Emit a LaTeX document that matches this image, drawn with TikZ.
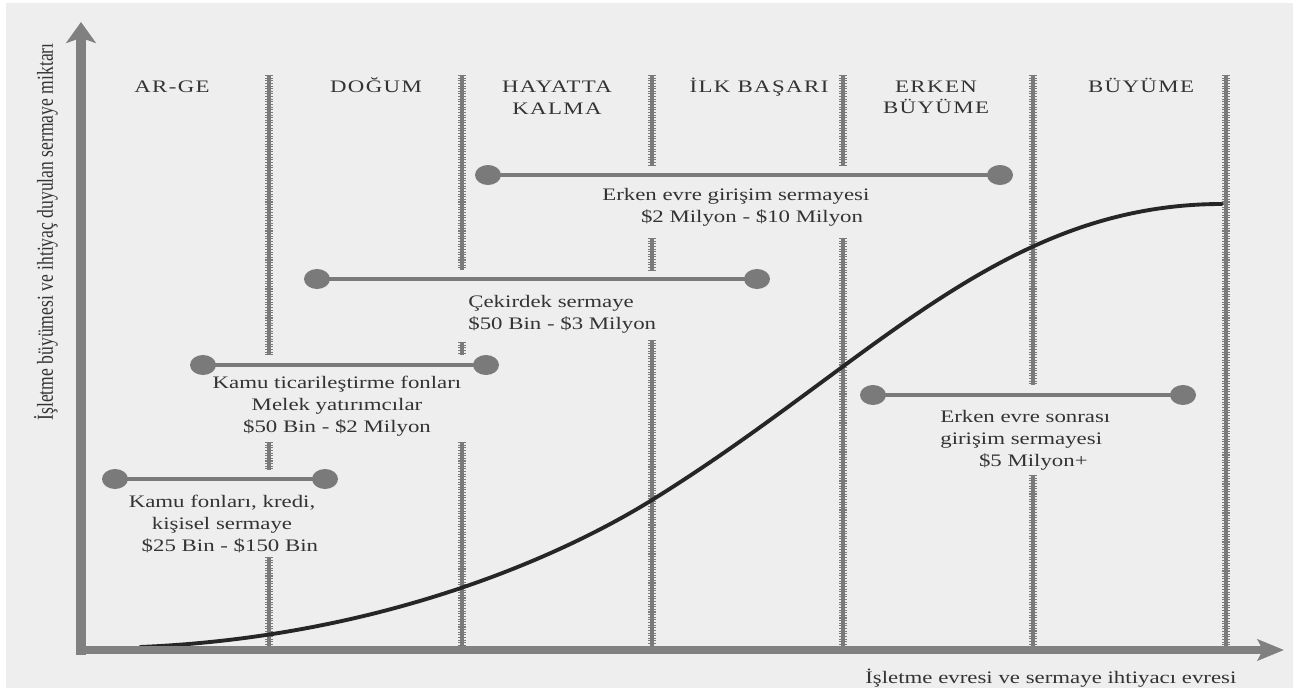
\documentclass[tikz,border=0pt]{standalone}
\usepackage{fontspec}
\usepackage{xcolor}
\setmainfont{Liberation Serif}
\newfontfamily\bodyfont[FakeStretch=1.3]{Liberation Serif}
\newfontfamily\headfont[FakeStretch=1.3,LetterSpace=8]{Liberation Serif}
\newfontfamily\sidefont[FakeStretch=0.77]{Liberation Serif}
\usetikzlibrary{arrows.meta}

\definecolor{paper}{HTML}{EEEEEE}
\definecolor{axisgray}{HTML}{808080}
\definecolor{bargray}{HTML}{7A7A7A}
\definecolor{inkgray}{HTML}{333333}
\definecolor{curveink}{HTML}{262626}

\begin{document}
\begin{tikzpicture}[x=0.02cm,y=-0.02cm,
        stage/.style={font=\headfont\fontsize{10}{12}\selectfont, text=inkgray, inner sep=0pt, align=center},
        fundtext/.style={font=\bodyfont\fontsize{10}{12.5}\selectfont, text=inkgray, inner sep=0pt},
        divider/.style={draw=bargray, line width=1.8pt,
                postaction={draw=bargray, line width=5pt, dash pattern=on 0.6pt off 0.9pt}},
        fundbar/.style={draw=bargray, line width=2.8pt},
        fundend/.style={fill=bargray}]

        % paper
        \useasboundingbox (0,0) rectangle (1297,688);
        \fill[paper] (6,3) rectangle (1293,688);

        % stage borders, broken where bars and texts pass
        \foreach \x/\ya/\yb in {269/75/355, 269/442/470, 269/557/648,
                462/75/270, 462/342/355, 462/442/648,
                652/75/165, 652/238/270, 652/340/648,
                843/75/165, 843/238/648,
                1033/75/385, 1033/475/648,
                1226/75/648}
                \draw[divider] (\x,\ya) -- (\x,\yb);

        % stage names
        \node[stage, anchor=base]  (arge)    at (172,93)  {AR-GE};
        \node[stage, anchor=base]  (dogum)   at (376,93)  {DOĞUM};
        \node[stage, anchor=north] (hayatta) at (557,81)  {HAYATTA\\KALMA};
        \node[stage, anchor=base]  (ilk)     at (759,93)  {İLK BAŞARI};
        \node[stage, anchor=north] (erken)   at (936,81)  {ERKEN\\BÜYÜME};
        \node[stage, anchor=base]  (buyume)  at (1141,93) {BÜYÜME};

        % funding bars with round ends
        \foreach \n/\xa/\xb/\y in {early/488/1000/175, seed/317/757/279,
                angel/203/486/365, grant/115/325/479, later/873/1183/395} {
                \coordinate (\n-l) at (\xa,\y);
                \coordinate (\n-r) at (\xb,\y);
                \draw[fundbar] (\n-l) -- (\n-r);
                \fill[fundend] (\n-l) ellipse [x radius=13, y radius=10];
                \fill[fundend] (\n-r) ellipse [x radius=13, y radius=10];
        }

        % funding texts
        \node[fundtext, anchor=north west, align=left] (early-txt) at (602,188)
                {Erken evre girişim sermayesi\\\hspace*{22pt}\$2 Milyon - \$10 Milyon};
        \node[fundtext, anchor=north west, align=left] (seed-txt) at (468,295)
                {Çekirdek sermaye\\\$50 Bin - \$3 Milyon};
        \node[fundtext, anchor=north, align=center] (angel-txt) at (337,376)
                {Kamu ticarileştirme fonları\\Melek yatırımcılar\\\$50 Bin - \$2 Milyon};
        \node[fundtext, anchor=north, align=center] (grant-txt) at (222,495)
                {Kamu fonları, kredi,\\kişisel sermaye\\\hspace*{9pt}\$25 Bin - \$150 Bin};
        \node[fundtext, anchor=north west, align=left] (later-txt) at (940,410)
                {Erken evre sonrası\\girişim sermayesi\\\hspace*{22pt}\$5 Milyon+};

        % growth curve
        \coordinate (c0) at (140,647);
        \coordinate (c1) at (652,500);
        \coordinate (c2) at (1222,204);
        \draw[curveink, line width=2.2pt, line cap=round]
                (c0) .. controls (380,637) and (560,557) .. (c1)
                     .. controls (870,365) and (1000,204) .. (c2);

        % axes
        \coordinate (ytail) at (81,655);
        \coordinate (ytip)  at (81,22);
        \coordinate (xtail) at (76,650);
        \coordinate (xtip)  at (1284,650);
        \draw[axisgray, line width=6pt, -{Stealth[length=12pt,width=17pt,inset=3pt]}] (ytail) -- (ytip);
        \draw[axisgray, line width=4.5pt, -{Stealth[length=15pt,width=12pt,inset=3pt]}] (xtail) -- (xtip);

        % axis labels
        \node[fundtext, anchor=base west] (xlabel) at (865,683)
                {İşletme evresi ve sermaye ihtiyacı evresi};
        \node[font=\sidefont\fontsize{13}{15}\selectfont, text=inkgray, inner sep=0pt, rotate=90] (ylabel) at (46,232)
                {İşletme büyümesi ve ihtiyaç duyulan sermaye miktarı};
\end{tikzpicture}
\end{document}
